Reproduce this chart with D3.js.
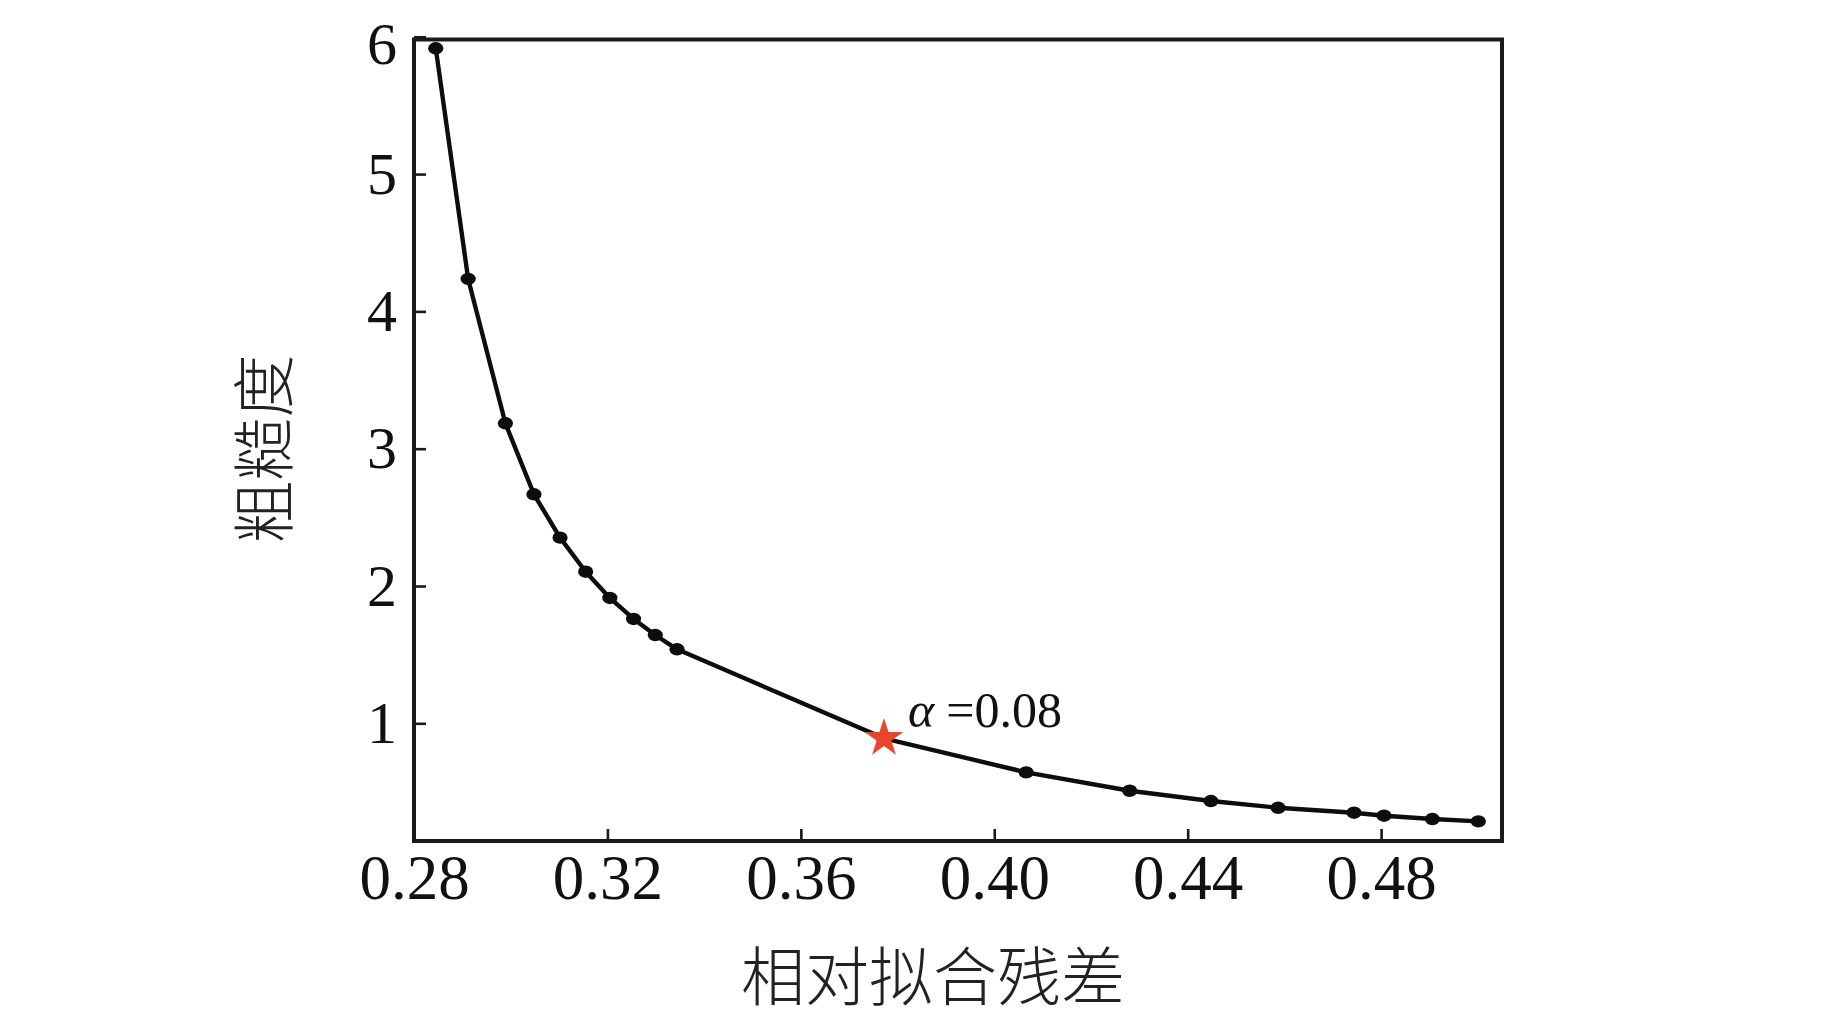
<!DOCTYPE html>
<html>
<head>
<meta charset="utf-8">
<script src="https://cdn.jsdelivr.net/npm/d3@7"></script>
<style>
  html, body { margin: 0; padding: 0; background: #ffffff; }
  svg { display: block; }
</style>
</head>
<body>
<svg id="chart" width="1843" height="1017"></svg>
<script>
// ---- data ----
const residual = [0.2845, 0.2912, 0.2989, 0.3048, 0.3102, 0.3155, 0.3205, 0.3254, 0.3299, 0.3344,
                  0.3772, 0.4066, 0.4280, 0.4448, 0.4587, 0.4744, 0.4806, 0.4906, 0.5001];
const roughness = [5.916, 4.236, 3.185, 2.668, 2.352, 2.104, 1.913, 1.760, 1.643, 1.539,
                   0.891, 0.643, 0.509, 0.434, 0.385, 0.349, 0.327, 0.303, 0.286];
const optimalIndex = 10;           // the starred point
const optimalLabel = "=0.08";
const xTickValues = [0.28, 0.32, 0.36, 0.40, 0.44, 0.48];
const xTickLabels = ["0.28", "0.32", "0.36", "0.40", "0.44", "0.48"];
const yTickValues = [1, 2, 3, 4, 5, 6];
const yTickLabels = ["1", "2", "3", "4", "5", "6"];
const xTitle = "相对拟合残差";
const yTitle = "粗糙度";

(function () {
  // ---- layout ----
  const pLeft = 414, pRight = 1502, pTop = 39.5, pBottom = 841;
  const svg = d3.select("#chart");

  const x = d3.scaleLinear().domain([0.28, 0.505]).range([pLeft, pRight]);
  const y = d3.scaleLinear().domain([0.143, 5.98]).range([pBottom, pTop]);

  const serif = "'Liberation Serif', 'Times New Roman', Times, serif";
  const cjk = "'Noto Sans CJK SC', 'Noto Sans CJK TC', sans-serif";

  // x axis
  const xAxis = d3.axisBottom(x)
    .tickValues(xTickValues)
    .tickFormat((d, i) => xTickLabels[i])
    .tickSize(-12)
    .tickPadding(13);
  const gx = svg.append("g").attr("transform", `translate(0,${pBottom})`).call(xAxis);
  gx.select(".domain").remove();
  gx.selectAll(".tick line").attr("stroke", "#1a1a1a").attr("stroke-width", 2.6);
  gx.selectAll(".tick text")
    .attr("fill", "#111")
    .style("font-family", serif)
    .style("font-size", "63px");

  // y axis
  const yAxis = d3.axisLeft(y)
    .tickValues(yTickValues)
    .tickFormat((d, i) => yTickLabels[i])
    .tickSize(-12)
    .tickPadding(17);
  const gy = svg.append("g").attr("transform", `translate(${pLeft},0)`).call(yAxis);
  gy.select(".domain").remove();
  gy.selectAll(".tick line").attr("stroke", "#1a1a1a").attr("stroke-width", 2.6);
  gy.selectAll(".tick text")
    .attr("fill", "#111")
    .style("font-family", serif)
    .style("font-size", "60px");
  // the top label sits slightly below its tick in the reference
  gy.selectAll(".tick text").filter(d => d === 6).attr("dy", "0.44em");

  // frame
  svg.append("rect")
    .attr("x", pLeft).attr("y", pTop)
    .attr("width", pRight - pLeft).attr("height", pBottom - pTop)
    .attr("fill", "none")
    .attr("stroke", "#1a1a1a")
    .attr("stroke-width", 4);

  // data
  const pts = residual.map((r, i) => ({ x: r, y: roughness[i], i }));

  const line = d3.line().x(d => x(d.x)).y(d => y(d.y));
  svg.append("path")
    .datum(pts)
    .attr("d", line)
    .attr("fill", "none")
    .attr("stroke", "#0d0d0d")
    .attr("stroke-width", 4.4)
    .attr("stroke-linejoin", "round");

  svg.append("g").selectAll("ellipse")
    .data(pts.filter(d => d.i !== optimalIndex))
    .join("ellipse")
    .attr("cx", d => x(d.x))
    .attr("cy", d => y(d.y))
    .attr("rx", 7.6)
    .attr("ry", 6.2)
    .attr("fill", "#0d0d0d");

  // star at optimal point
  const opt = pts[optimalIndex];
  svg.append("path")
    .attr("d", d3.symbol().type(d3.symbolStar).size(460)())
    .attr("transform", `translate(${x(opt.x)},${y(opt.y)})`)
    .attr("fill", "#e8452c");

  // annotation
  const ann = svg.append("text")
    .attr("x", x(opt.x) + 24)
    .attr("y", y(opt.y) - 11)
    .attr("fill", "#111")
    .style("font-family", serif)
    .style("font-size", "50px");
  ann.append("tspan").style("font-style", "italic").text("α");
  ann.append("tspan").attr("dx", 12).text(optimalLabel);

  // axis titles
  svg.append("text")
    .attr("x", 933)
    .attr("y", 1000)
    .attr("text-anchor", "middle")
    .attr("fill", "#222")
    .style("font-family", cjk)
    .style("font-weight", 300)
    .style("font-size", "64px")
    .text(xTitle);

  svg.append("text")
    .attr("transform", `translate(287,449) rotate(-90)`)
    .attr("text-anchor", "middle")
    .attr("fill", "#222")
    .style("font-family", cjk)
    .style("font-weight", 300)
    .style("font-size", "63px")
    .text(yTitle);
})();
</script>
</body>
</html>
